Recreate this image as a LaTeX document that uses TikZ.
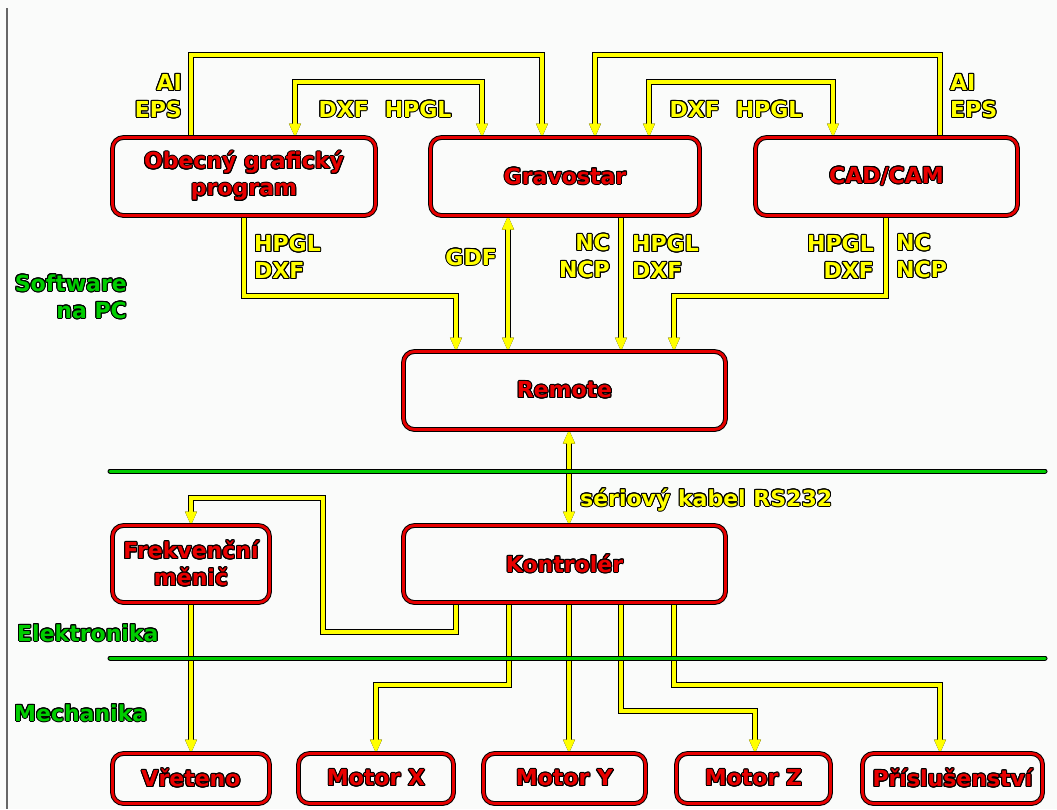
\documentclass[tikz,border=0pt]{standalone}
\usepackage{fontspec}
\setmainfont{DejaVu Sans}
\usepackage{contour}
\usepackage{tikz}
\usetikzlibrary{arrows.meta,positioning,backgrounds}
\definecolor{boxred}{RGB}{232,0,0}
\definecolor{wireyel}{RGB}{255,255,0}
\definecolor{zonegreen}{RGB}{0,205,0}
\definecolor{paper}{RGB}{250,251,250}
\contourlength{1pt}
\newcommand{\boxtext}[1]{{\color{boxred}\contour{black}{#1}}}
\newcommand{\wiretext}[1]{{\color{wireyel}\contour{black}{#1}}}
\newcommand{\zonetext}[1]{{\color{zonegreen}\contour{black}{#1}}}

\begin{document}
\begin{tikzpicture}[x=1pt,y=-1pt,
   font=\fontsize{22}{27}\selectfont\bfseries,
   >={Triangle[length=14pt,width=11pt]},
   blk/.style={draw=black,double=boxred,double distance=2.8pt,line width=1pt,
               rounded corners=11pt,fill=paper,align=center,inner sep=0pt,outer sep=0pt},
   wire/.style={draw=wireyel,line width=3.2pt,preaction={draw=black,line width=5.2pt}},
   zone/.style={draw=zonegreen,line width=3pt,line cap=round,
                preaction={draw=black,line width=5pt,line cap=round}},
   lbl/.style={inner sep=0pt}]
  \useasboundingbox (0,0) rectangle (1057,809);
  % software
  \node[blk,minimum width=263pt,minimum height=78pt] (obec)   at (244,176.5) {\boxtext{Obecný grafický}\\\boxtext{program}};
  \node[blk,minimum width=269pt,minimum height=78pt] (grav)   at (565,176.5) {\boxtext{Gravostar}};
  \node[blk,minimum width=262pt,minimum height=78pt] (cad)    at (886.5,176.5) {\boxtext{CAD/CAM}};
  \node[blk,minimum width=322pt,minimum height=78pt] (remote) at (564.5,390.5) {\boxtext{Remote}};
  % elektronika
  \node[blk,minimum width=322pt,minimum height=77pt] (kontr)  at (564.5,564) {\boxtext{Kontrolér}};
  \node[blk,minimum width=157pt,minimum height=77pt] (frek)   at (191,564) {\boxtext{Frekvenční}\\\boxtext{měnič}};
  % mechanika
  \node[blk,minimum width=157pt,minimum height=50pt] (vret)   at (191,778.5) {\boxtext{Vřeteno}};
  \node[blk,minimum width=155pt,minimum height=50pt] (motx)   at (376,778.5) {\boxtext{Motor X}};
  \node[blk,minimum width=162pt,minimum height=50pt] (moty)   at (564.5,778.5) {\boxtext{Motor Y}};
  \node[blk,minimum width=154pt,minimum height=50pt] (motz)   at (753.5,778.5) {\boxtext{Motor Z}};
  \node[blk,minimum width=180pt,minimum height=50pt] (pris)   at (952.5,778.5) {\boxtext{Příslušenství}};

  \begin{scope}[on background layer]
    \fill[paper] (0,0) rectangle (1057,809);
    \draw[black!60,line width=1.2pt] (7,8) -- (7,809);
    % formats between programs
    \draw[wire,->]  (obec.north -| 191,0) -- (191,55) -| (grav.north -| 542,0);
    \draw[wire,<->] (obec.north -| 295,0) -- (295,82) -| (grav.north -| 482,0);
    \draw[wire,<->] (grav.north -| 649,0) -- (649,82) -| (cad.north -| 833,0);
    \draw[wire,->]  (cad.north -| 940,0) -- (940,55) -| (grav.north -| 595,0);
    % to Remote
    \draw[wire,->]  (obec.south -| 244,0) -- (244,296) -| (remote.north -| 456,0);
    \draw[wire,<->] (grav.south -| 508,0) -- (remote.north -| 508,0);
    \draw[wire,->]  (grav.south -| 621,0) -- (remote.north -| 621,0);
    \draw[wire,->]  (cad.south -| 886,0) -- (886,296) -| (remote.north -| 674,0);
    \draw[wire,<->] (remote.south -| 569,0) -- (kontr.north -| 569,0);
    % outputs of the controller
    \draw[wire,->]  (kontr.south -| 456,0) -- (456,632) -- (323,632) -- (323,498) -| (frek.north);
    \draw[wire,->]  (frek.south) -- (vret.north);
    \draw[wire,->]  (kontr.south -| 509,0) -- (509,685) -| (motx.north);
    \draw[wire,->]  (kontr.south -| 569,0) -- (moty.north -| 569,0);
    \draw[wire,->]  (kontr.south -| 621,0) -- (621,711) -| (motz.north -| 755,0);
    \draw[wire,->]  (kontr.south -| 674,0) -- (674,685) -| (pris.north -| 940,0);
  \end{scope}

  \draw[zone] (110,471) -- (1045,471);
  \draw[zone] (110,658) -- (1045,658);

  \node[lbl,anchor=east,align=right] (aiA)  at (182,96.5) {\wiretext{AI}\\\wiretext{EPS}};
  \node[lbl] (dxfA) at (385,109.5) {\wiretext{DXF\hspace{16pt}HPGL}};
  \node[lbl] (dxfB) at (736,109.5) {\wiretext{DXF\hspace{16pt}HPGL}};
  \node[lbl,anchor=west,align=left]  (aiB)  at (950,96.5) {\wiretext{AI}\\\wiretext{EPS}};
  \node[lbl,anchor=west,align=left]  (fmtA) at (254,257.5) {\wiretext{HPGL}\\\wiretext{DXF}};
  \node[lbl,anchor=east] (gdf) at (497,257.5) {\wiretext{GDF}};
  \node[lbl,anchor=east,align=right] (ncA)  at (610,256.5) {\wiretext{NC}\\\wiretext{NCP}};
  \node[lbl,anchor=west,align=left]  (fmtB) at (632,257.5) {\wiretext{HPGL}\\\wiretext{DXF}};
  \node[lbl,anchor=east,align=right] (fmtC) at (874,257.5) {\wiretext{HPGL}\\\wiretext{DXF}};
  \node[lbl,anchor=west,align=left]  (ncB)  at (896,256.5) {\wiretext{NC}\\\wiretext{NCP}};
  \node[lbl,anchor=base west] (rs) at (580,506) {\wiretext{sériový kabel RS232}};
  \node[lbl,anchor=east,align=right] (sw) at (127,297) {\zonetext{Software}\\\zonetext{na PC}};
  \node[lbl,anchor=base west] (el) at (17,641) {\zonetext{Elektronika}};
  \node[lbl,anchor=base west] (me) at (14,721) {\zonetext{Mechanika}};
\end{tikzpicture}
\end{document}
